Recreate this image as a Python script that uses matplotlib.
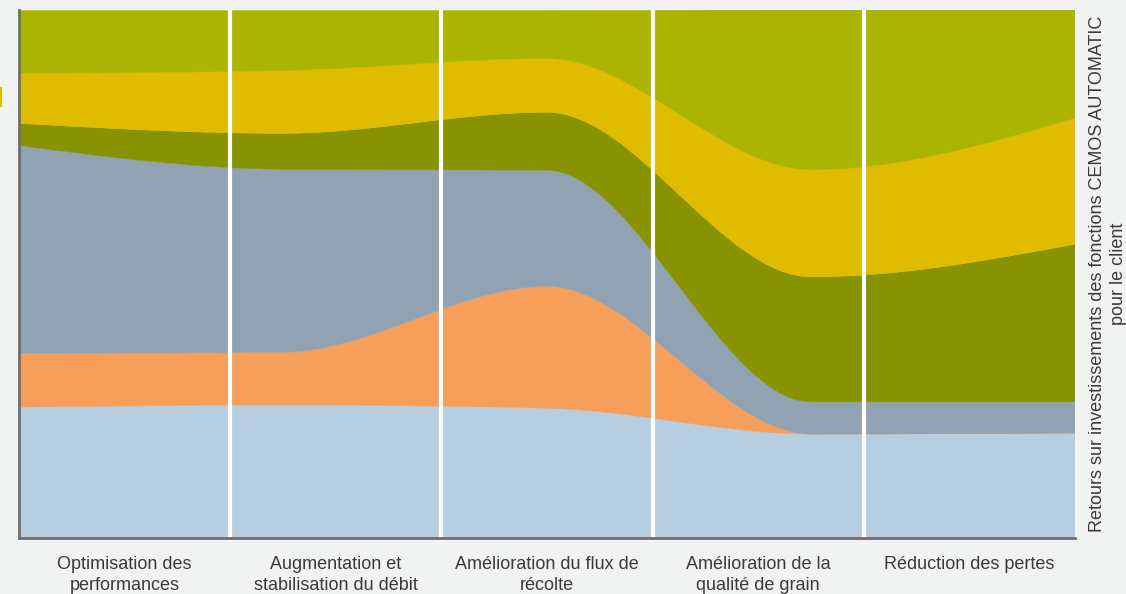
import numpy as np
import matplotlib.pyplot as plt
from matplotlib.path import Path
from matplotlib.patches import PathPatch, Rectangle

plt.rcParams['font.family'] = ['Liberation Sans', 'DejaVu Sans']

# donnees (en %), une valeur par point de la courbe
categories = ['Optimisation des\nperformances',
              'Augmentation et\nstabilisation du débit',
              'Amélioration du flux de\nrécolte',
              'Amélioration de la\nqualité de grain',
              'Réduction des pertes']

bleu_clair = [24.8, 25.2, 24.6, 19.7, 19.9]
orange     = [10.2, 10.0, 23.1, 0.0, 0.0]
gris       = [39.4, 34.7, 22.0, 6.1, 5.9]
vert_fonce = [4.2, 6.8, 11.0, 23.7, 29.9]
jaune      = [9.5, 11.9, 10.2, 20.3, 23.9]
vert_clair = [11.9, 11.4, 9.1, 30.3, 20.5]

series = [bleu_clair, orange, gris, vert_fonce, jaune, vert_clair]
couleurs = ['#b7cde0', '#f59f5a', '#91a3b3', '#879300', '#dfbc00', '#abb400']

fond = '#f1f2f2'
texte = '#3a3a3a'

# ----------------------- FONCTIONS AUXILIAIRES -----------------------

def pentes(x, y):
    # tangentes monotones (comme curveMonotoneX)
    h = np.diff(x)
    s = np.diff(y) / h
    t = np.zeros(len(x))
    for i in range(1, len(x) - 1):
        p = (s[i-1] * h[i] + s[i] * h[i-1]) / (h[i-1] + h[i])
        t[i] = (np.sign(s[i-1]) + np.sign(s[i])) * min(abs(s[i-1]), abs(s[i]), 0.5 * abs(p))
    t[0] = (3 * s[0] - t[1]) / 2
    t[-1] = (3 * s[-1] - t[-2]) / 2
    return t

def segments(x, y, inverse=False):
    t = pentes(x, y)
    idx = list(range(len(x)))
    if inverse:
        idx = idx[::-1]
    verts = []
    codes = []
    for a, b in zip(idx[:-1], idx[1:]):
        dx = (x[b] - x[a]) / 3
        verts += [(x[a] + dx, y[a] + dx * t[a]), (x[b] - dx, y[b] - dx * t[b]), (x[b], y[b])]
        codes += [Path.CURVE4] * 3
    return verts, codes

# ------------------------------ GRAPHE -------------------------------

x = np.arange(len(bleu_clair), dtype=float)
cumul = np.vstack([np.zeros(len(x))] + [np.cumsum(series, axis=0)[i] for i in range(len(series))])

fig = plt.figure(figsize=(11.26, 5.94), dpi=100)
fig.patch.set_facecolor(fond)
ax = fig.add_axes([0.0169, 0.0943, 0.9378, 0.8889])
ax.set_facecolor(fond)

for i in range(len(series)):
    bas = cumul[i]
    haut = cumul[i + 1]
    v1, c1 = segments(x, haut)
    v2, c2 = segments(x, bas, inverse=True)
    verts = [(x[0], haut[0])] + v1 + [(x[-1], bas[-1])] + v2 + [(x[0], haut[0])]
    codes = [Path.MOVETO] + c1 + [Path.LINETO] + c2 + [Path.CLOSEPOLY]
    ax.add_patch(PathPatch(Path(verts, codes), facecolor=couleurs[i], edgecolor=couleurs[i], lw=0.3))

ax.set_xlim(x[0], x[-1])
ax.set_ylim(0, cumul[-1].max())

# separations des categories
n = len(categories)
largeur = (x[-1] - x[0]) / n
for k in range(1, n):
    ax.axvline(x[0] + k * largeur, color='white', lw=3)

ax.set_xticks([x[0] + (k + 0.5) * largeur for k in range(n)])
ax.set_xticklabels(categories, fontsize=13, color=texte, linespacing=1.32)
ax.tick_params(axis='x', length=0, pad=13)
ax.set_yticks([])

for cote in ['top', 'right']:
    ax.spines[cote].set_visible(False)
for cote in ['left', 'bottom']:
    ax.spines[cote].set_color('#6e6e6e')
    ax.spines[cote].set_linewidth(2)

ax.yaxis.set_label_position('right')
ax.set_ylabel('Retours sur investissements des fonctions CEMOS AUTOMATIC\npour le client',
              fontsize=13, color=texte, labelpad=10, linespacing=1.32)

# petit repere jaune coupe a gauche
fig.patches.append(Rectangle((0, 0.82), 0.0018, 0.034, transform=fig.transFigure,
                             facecolor='#dfbc00', edgecolor='none'))

fig.savefig('out.png', dpi=100, facecolor=fond)
